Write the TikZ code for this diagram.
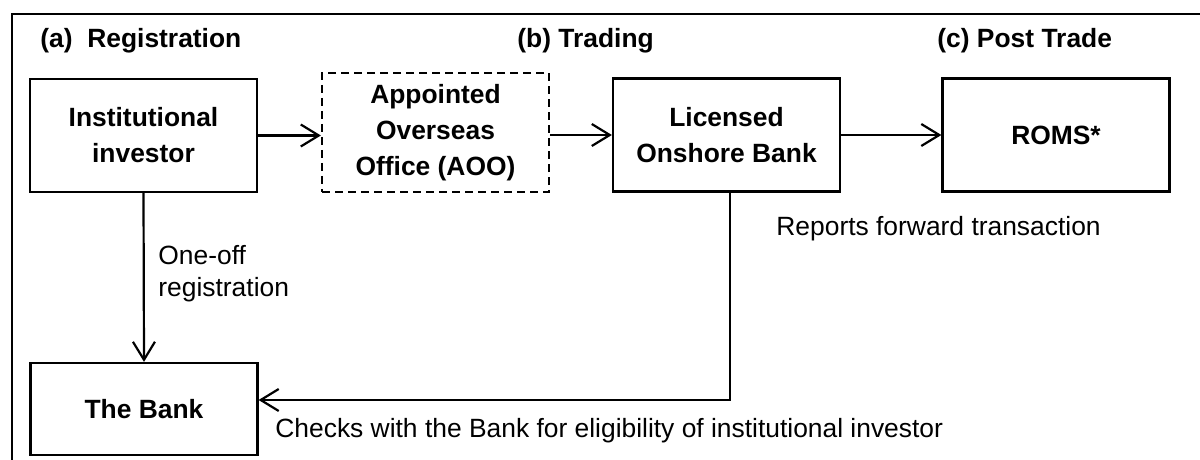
\documentclass[tikz,border=0pt]{standalone}
\usepackage{fontspec}
\setmainfont{Liberation Sans}
\usetikzlibrary{arrows.meta,positioning}
\begin{document}
\begin{tikzpicture}[x=0.5pt,y=-0.5pt,
  every node/.style={font=\fontsize{13.2pt}{16pt}\selectfont},
  box/.style={draw,line width=1.1pt,minimum width=113.5pt,minimum height=56.5pt,align=center,font=\fontsize{13.2pt}{18pt}\selectfont\bfseries,inner sep=0pt},
  dbox/.style={box,dash pattern=on 4pt off 2.5pt},
  head/.style={anchor=west,font=\fontsize{13.2pt}{16pt}\selectfont\bfseries,inner sep=0pt},
  lbl/.style={anchor=west,align=left,inner sep=0pt},
  conn/.style={line width=1.1pt,-{Straight Barb[length=9pt,width=11pt,line width=1.1pt]}}]
\useasboundingbox (0,0) rectangle (1200,460);
\draw[line width=1.1pt] (12,460) -- (12,14) -- (1200,14);
\node[head] (ha) at (40,41) {(a)\ \ Registration};
\node[head] (hb) at (517,41) {(b) Trading};
\node[head] (hc) at (937,41) {(c) Post Trade};
\node[box] (inv) at (143.5,135.5) {Institutional\\investor};
\node[dbox,minimum height=59.5pt] (aoo) at (435.5,132.5) {Appointed\\Overseas\\Office (AOO)};
\node[box] (lob) at (726.5,135) {Licensed\\Onshore Bank};
\node[box] (roms) at (1056,135) {ROMS*};
\node[box,minimum height=46pt] (bank) at (144,409) {The Bank};
\coordinate (lobd) at (730,191);
\coordinate (turn) at (730,400);
\draw[conn] (inv.east) -- (aoo.west |- inv.east);
\draw[conn] (aoo.east |- lob.west) -- (lob.west);
\draw[conn] (lob.east) -- (roms.west);
\draw[conn] (inv.south) -- (bank.north);
\draw[conn] (lobd) -- (turn) -- (bank.east |- turn);
\node[lbl] (l1) at (158,274) {One-off\\registration};
\node[lbl] (l2) at (776,229) {Reports forward transaction};
\node[lbl] (l3) at (275,431) {Checks with the Bank for eligibility of institutional investor};
\end{tikzpicture}
\end{document}
